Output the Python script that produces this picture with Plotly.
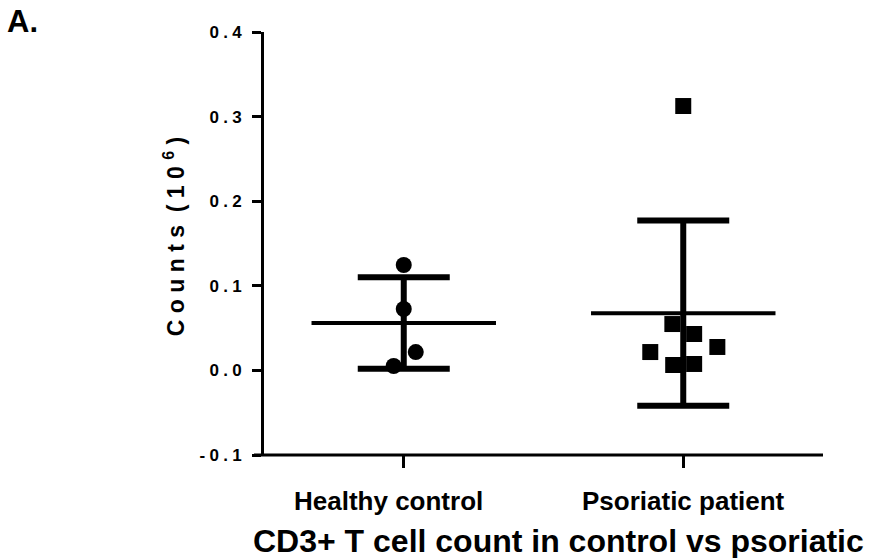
import numpy as np
import plotly.graph_objects as go

# ---- data ----
categories = ["Healthy control", "Psoriatic patient"]
category_label_shift = [-15, 0]
healthy_values = [0.1246, 0.0726, 0.0217, 0.0052]
healthy_jitter = [0.0, 0.0, 0.043, -0.036]
psoriatic_values = [0.3125, 0.0548, 0.0430, 0.0217, 0.0277, 0.0064, 0.0076]
psoriatic_jitter = [0.0, -0.039, 0.039, -0.118, 0.122, -0.036, 0.039]
y_tick_vals = [-0.1, 0.0, 0.1, 0.2, 0.3, 0.4]
y_tick_labels = ["-0.1", "0.0", "0.1", "0.2", "0.3", "0.4"]
y_title_main = "Counts"
y_title_unit = "(10"
y_title_exp = "6"
x_title = "CD3+ T cell count in control vs psoriatic"
panel_label = "A."

FONT = "Liberation Sans, Arial, sans-serif"
NB = "\u00a0"
SP4 = "\u2005"


def spaced(s, sep):
    return sep.join(list(s))


groups = [
    (0, healthy_values, healthy_jitter, "circle"),
    (1, psoriatic_values, psoriatic_jitter, "square"),
]

fig = go.Figure()

for pos, vals, jit, sym in groups:
    v = np.array(vals)
    m = v.mean()
    sd = v.std(ddof=1)
    # mean line
    fig.add_trace(go.Scatter(
        x=[pos - 0.33, pos + 0.33], y=[m, m], mode="lines",
        line=dict(color="black", width=4), showlegend=False, hoverinfo="skip"))
    # SD error bars
    fig.add_trace(go.Scatter(
        x=[pos], y=[m], mode="markers",
        marker=dict(size=1, color="rgba(0,0,0,0)"),
        error_y=dict(type="constant", value=sd, color="black",
                     thickness=6, width=46),
        showlegend=False, hoverinfo="skip"))
    # points
    fig.add_trace(go.Scatter(
        x=[pos + j for j in jit], y=vals, mode="markers",
        marker=dict(symbol=sym, size=16, color="black", line=dict(width=0)),
        showlegend=False))

y_title_text = ("<b>" + spaced(y_title_main, NB) + NB + NB +
                spaced(y_title_unit, NB) + NB + "<sup>" + y_title_exp + "</sup>" +
                NB + ")</b>")

annotations = [
    dict(text=y_title_text,
         xref="paper", yref="paper", x=-0.161, y=0.515,
         xanchor="center", yanchor="middle", textangle=-90,
         showarrow=False, font=dict(size=23, family=FONT, color="black")),
    dict(text="<b>%s</b>" % x_title,
         xref="paper", yref="paper", x=0.526, y=-0.203,
         xanchor="center", yanchor="middle",
         showarrow=False, font=dict(size=32, family=FONT, color="black")),
    dict(text="<b>%s</b>" % panel_label,
         xref="paper", yref="paper", x=(5 - 264) / 559, y=(455 - 22) / 423,
         xanchor="left", yanchor="middle",
         showarrow=False, font=dict(size=31, family=FONT, color="black")),
]
for i, (c, sh) in enumerate(zip(categories, category_label_shift)):
    annotations.append(dict(
        text="<b>%s</b>" % c, xref="x", yref="paper", x=i, xshift=sh,
        y=(455 - 484) / 423, xanchor="center", yanchor="top",
        showarrow=False, font=dict(size=26, family=FONT, color="black")))

fig.update_layout(
    width=870, height=558,
    margin=dict(l=264, r=47, t=32, b=103, pad=0),
    paper_bgcolor="white", plot_bgcolor="white",
    font=dict(family=FONT, color="black"),
    xaxis=dict(
        range=[-0.5, 1.5], showgrid=False, zeroline=False, showline=False,
        tickmode="array", tickvals=[0, 1], showticklabels=False,
        ticks="outside", ticklen=12, tickwidth=3, tickcolor="black",
    ),
    yaxis=dict(
        range=[-0.1, 0.4], showgrid=False, zeroline=False,
        showline=True, linewidth=3, linecolor="black",
        tickmode="array", tickvals=y_tick_vals,
        ticktext=["<b>%s</b>" % spaced(t, SP4) for t in y_tick_labels],
        ticks="outside", ticklen=9, tickwidth=3, tickcolor="black",
        tickfont=dict(size=17, family=FONT, color="black"),
        ticklabelstandoff=7,
    ),
    shapes=[dict(type="line", xref="paper", yref="paper",
                 x0=-10 / 559, x1=1, y0=0, y1=0,
                 line=dict(color="black", width=3))],
    annotations=annotations,
)

fig.write_html("out.html")
